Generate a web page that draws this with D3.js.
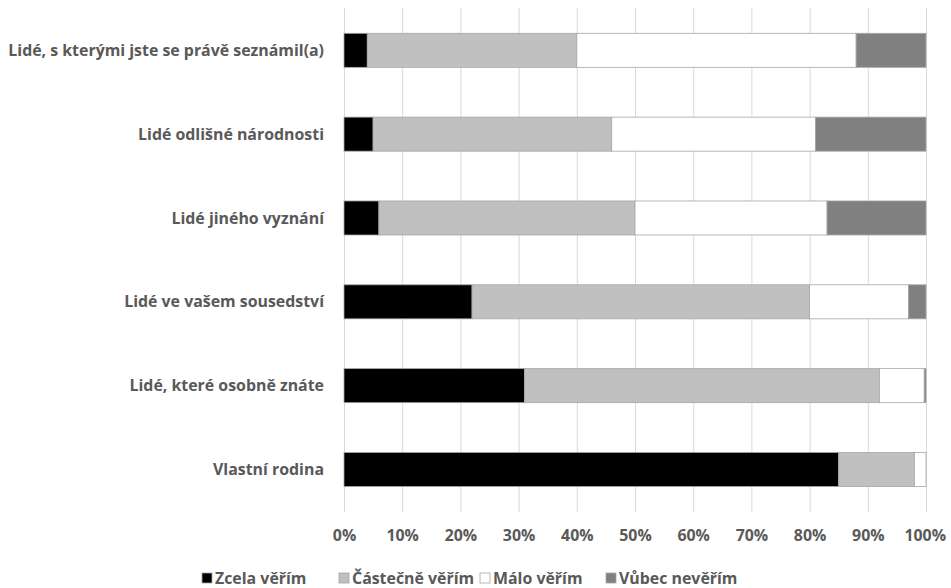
<!DOCTYPE html>
<html><head><meta charset="utf-8">
<script src="https://cdn.jsdelivr.net/npm/d3@7"></script>
<style>body{margin:0;background:#fff}svg{display:block}</style>
</head><body>
<svg id="c" width="951" height="588"></svg>
<script>
const categories = ["Lidé, s kterými jste se právě seznámil(a)","Lidé odlišné národnosti","Lidé jiného vyznání","Lidé ve vašem sousedství","Lidé, které osobně znáte","Vlastní rodina"];
const seriesNames = ["Zcela věřím","Částečně věřím","Málo věřím","Vůbec nevěřím"];
const zcela = [4, 5, 6, 22, 31, 85];
const castecne = [36, 41, 44, 58, 61, 13];
const malo = [48, 35, 33, 17, 7.7, 2];
const vubec = [12, 19, 17, 3, 0.3, 0];
const tickValues = [0,10,20,30,40,50,60,70,80,90,100];
const colors = ["#000000","#c0c0c0","#ffffff","#808080"];

const svg = d3.select("#c");
const font = "'Open Sans', sans-serif";
const x = d3.scaleLinear().domain([0,100]).range([344,926]);
const y = d3.scaleBand().domain(categories).range([8.4,511.4]).paddingInner(0.594).paddingOuter(0.297);

// fit font size so longest label spans ~316px
const probe = svg.append("text").attr("font-family",font).attr("font-weight","bold").attr("font-size",20).text(categories[0]);
const w20 = probe.node().getComputedTextLength();
probe.remove();
const fs = Math.min(17, 20*316/w20);

// grid
svg.append("g").selectAll("line").data(tickValues).join("line")
  .attr("x1",d=>x(d)+0.5).attr("x2",d=>x(d)+0.5).attr("y1",8).attr("y2",512)
  .attr("stroke","#d9d9d9").attr("stroke-width",1);

const series = [zcela,castecne,malo,vubec];
const stacked = categories.map((c,i)=>{let acc=0;return series.map((s,k)=>{const a=acc;acc+=s[i];return {c,k,x0:a,x1:acc};});});
svg.append("g").selectAll("rect").data(stacked.flat().filter(d=>d.x1>d.x0)).join("rect")
  .attr("x",d=>x(d.x0)).attr("width",d=>x(d.x1)-x(d.x0))
  .attr("y",d=>y(d.c)).attr("height",y.bandwidth())
  .attr("fill",d=>colors[d.k]).attr("stroke","#a6a6a6").attr("stroke-width",0.8);

// y labels
svg.append("g").selectAll("text").data(categories).join("text")
  .attr("x",324).attr("y",d=>y(d)+y.bandwidth()/2).attr("dy","0.35em")
  .attr("text-anchor","end").attr("font-family",font).attr("font-weight","bold")
  .attr("font-size",fs).attr("fill","#595959").text(d=>d);

// x axis labels
const xa = d3.axisBottom(x).tickValues(tickValues).tickFormat(d=>d+"%").tickSize(0).tickPadding(0);
const gx = svg.append("g").attr("transform","translate(0,535)").call(xa);
gx.select(".domain").remove();
gx.selectAll("text").attr("dy","0.35em").attr("font-family",font).attr("font-weight","bold").attr("font-size",fs).attr("fill","#595959");
gx.selectAll("text").each(function(){
  const bb=this.getBBox(); const tx=this.parentNode.transform.baseVal.consolidate().matrix.e;
  const right = tx+bb.x+bb.width; if(right>946){d3.select(this).attr("x",946-right);}
});

// legend
const legX = [202,339,480,606];
const lg = svg.append("g").selectAll("g").data(seriesNames).join("g")
  .attr("transform",(d,i)=>`translate(${legX[i]},578)`);
lg.append("rect").attr("x",0).attr("y",-5).attr("width",10).attr("height",10)
  .attr("fill",(d,i)=>colors[i]).attr("stroke","#a6a6a6").attr("stroke-width",0.8);
lg.append("text").attr("x",13).attr("dy","0.35em").attr("font-family",font).attr("font-weight","bold")
  .attr("font-size",fs).attr("fill","#595959").text(d=>d);
</script>
</body></html>
